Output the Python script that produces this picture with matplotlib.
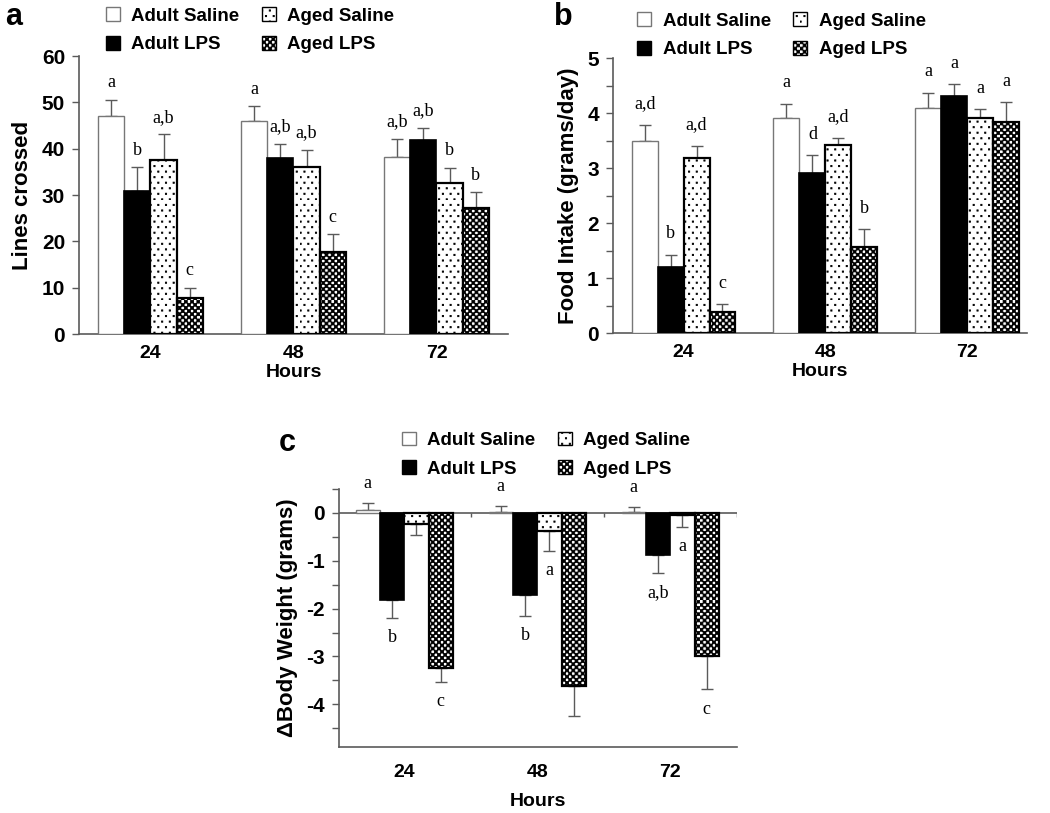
import numpy as np
import matplotlib
matplotlib.use("Agg")
import matplotlib.pyplot as plt
import matplotlib.hatch as mhatch
from matplotlib.path import Path
from matplotlib.patches import Patch

# ---- data ------------------------------------------------------------------
hours = ["24", "48", "72"]
groups = ["Adult Saline", "Adult LPS", "Aged Saline", "Aged LPS"]

lines_mean = [[47.1, 30.9, 37.6, 7.8],
              [45.9, 38.1, 36.1, 17.8],
              [38.2, 41.9, 32.7, 27.2]]
lines_err = [[3.5, 5.1, 5.6, 2.2],
             [3.3, 3.0, 3.7, 3.8],
             [4.0, 2.6, 3.2, 3.4]]
lines_sig = [["a", "b", "a,b", "c"],
             ["a", "a,b", "a,b", "c"],
             ["a,b", "a,b", "b", "b"]]

food_mean = [[3.49, 1.21, 3.19, 0.39],
             [3.91, 2.91, 3.42, 1.57],
             [4.10, 4.31, 3.91, 3.85]]
food_err = [[0.30, 0.22, 0.22, 0.14],
            [0.26, 0.33, 0.13, 0.32],
            [0.27, 0.22, 0.16, 0.35]]
food_sig = [["a,d", "b", "a,d", "c"],
            ["a", "d", "a,d", "b"],
            ["a", "a", "a", "a"]]

bw_mean = [[0.06, -1.83, -0.24, -3.24],
           [0.03, -1.72, -0.37, -3.61],
           [0.01, -0.87, -0.04, -2.99]]
bw_err = [[0.14, 0.37, 0.23, 0.29],
          [0.12, 0.43, 0.42, 0.63],
          [0.12, 0.39, 0.26, 0.70]]
bw_sig = [["a", "b", "", "c"],
          ["a", "b", "a", ""],
          ["a", "a,b", "a", "c"]]


# ---- staggered filled-square hatches (dots / checkerboard) -----------------
class Stagger(mhatch.HatchPatternBase):
    char = "*"
    ncol, nrow, side = 16, 32, 0.42

    def __init__(self, hatch, density):
        self.on = self.char in hatch
        self.num_vertices = self.ncol * self.nrow * 5 if self.on else 0

    def set_vertices_and_codes(self, vertices, codes):
        p = 1.0 / self.ncol
        q = 1.0 / self.nrow
        s = self.side * p
        sq = np.array([[0, 0], [s, 0], [s, s], [0, s], [0, 0]], float)
        cc = [Path.MOVETO, Path.LINETO, Path.LINETO, Path.LINETO, Path.CLOSEPOLY]
        k = 0
        for r in range(self.nrow):
            shift = 0 if r % 2 == 0 else p / 2
            for c in range(self.ncol):
                vertices[k:k + 5] = sq + [c * p + shift, r * q]
                codes[k:k + 5] = cc
                k += 5


class Checker(Stagger):
    char = "*"
    ncol, nrow, side = 16, 32, 0.46


class Dots(Stagger):
    char = "o"
    ncol, nrow, side = 13, 18, 0.16


_ht = mhatch._hatch_types
_ht[_ht.index(mhatch.Stars)] = Checker
_ht[_ht.index(mhatch.SmallCircles)] = Dots

SANS = "Liberation Sans"
SERIF = "Liberation Serif"
plt.rcParams["font.family"] = SANS
plt.rcParams["hatch.linewidth"] = 0.6
plt.rcParams["axes.unicode_minus"] = False

AXC = "#5a5a5a"
STYLE = {
    "Adult Saline": dict(facecolor="white", edgecolor="#777777", hatch=None, lw=1.0),
    "Adult LPS": dict(facecolor="black", edgecolor="black", hatch=None, lw=1.2),
    "Aged Saline": dict(facecolor="white", edgecolor="black", hatch="o", lw=1.6),
    "Aged LPS": dict(facecolor="white", edgecolor="black", hatch="*", lw=1.6),
}
W = 0.183


def panel(ax, mean, err, sig, ylim, yticks, minor, ylabel, letter_off):
    mean = np.array(mean)
    err = np.array(err)
    x = np.arange(len(hours))
    for j, g in enumerate(groups):
        st = STYLE[g]
        xs = x + (j - 1.5) * W
        ax.bar(xs, mean[:, j], W, color=st["facecolor"], edgecolor=st["edgecolor"],
               hatch=st["hatch"], linewidth=st["lw"], zorder=3)
        up = np.where(mean[:, j] >= 0, err[:, j], 0)
        dn = np.where(mean[:, j] < 0, err[:, j], 0)
        ax.errorbar(xs, mean[:, j], yerr=[dn, up], fmt="none", ecolor=AXC,
                    elinewidth=1.0, capsize=4, capthick=1.0, zorder=2)
        for i in range(len(hours)):
            if not sig[i][j]:
                continue
            if mean[i, j] >= 0:
                ax.annotate(sig[i][j], (xs[i], mean[i, j] + err[i, j]),
                            xytext=(0, letter_off), textcoords="offset points",
                            ha="center", va="bottom", family=SERIF, fontsize=13)
            else:
                ax.annotate(sig[i][j], (xs[i], mean[i, j] - err[i, j]),
                            xytext=(0, -letter_off), textcoords="offset points",
                            ha="center", va="top", family=SERIF, fontsize=13)
    ax.set_ylim(*ylim)
    ax.set_yticks(yticks)
    if minor is not None:
        ax.set_yticks(minor, minor=True)
    ax.set_xticks(x)
    ax.set_xticklabels(hours, fontsize=14, fontweight="bold")
    ax.tick_params(axis="x", length=0, pad=8)
    ax.tick_params(axis="y", which="both", length=5, width=1, color=AXC,
                   labelsize=15, pad=5)
    for lab in ax.get_yticklabels():
        lab.set_fontweight("bold")
    for s in ("top", "right"):
        ax.spines[s].set_visible(False)
    for s in ("left", "bottom"):
        ax.spines[s].set_color(AXC)
        ax.spines[s].set_linewidth(1.2)
    ax.set_ylabel(ylabel, fontsize=16, fontweight="bold", labelpad=6)


def add_legend(ax, anchor):
    handles = []
    for g in groups:
        st = STYLE[g]
        handles.append(Patch(facecolor=st["facecolor"], edgecolor=st["edgecolor"],
                             hatch=st["hatch"], linewidth=1.0))
    ax.legend(handles, groups, ncol=2, loc="upper left", bbox_to_anchor=anchor,
              bbox_transform=ax.figure.transFigure, frameon=False, borderpad=0,
              borderaxespad=0, handlelength=0.75, handleheight=0.75,
              handletextpad=0.6, columnspacing=1.2, labelspacing=0.6,
              prop={"family": SANS, "weight": "bold", "size": 13.5})


fig = plt.figure(figsize=(10.5, 8.13), dpi=100)

ax_a = fig.add_axes([0.0752, 0.589, 0.4086, 0.342])
panel(ax_a, lines_mean, lines_err, lines_sig, (0, 60), np.arange(0, 61, 10), None,
      "Lines crossed", 6)
ax_a.set_xlim(-0.5, 2.5)
ax_a.set_xlabel("Hours", fontsize=14, fontweight="bold", labelpad=1)
add_legend(ax_a, (0.101, 0.991))
fig.text(0.005, 0.979, "a", fontsize=22, fontweight="bold", va="center")

ax_b = fig.add_axes([0.5835, 0.59, 0.3943, 0.3383])
panel(ax_b, food_mean, food_err, food_sig, (0, 5), np.arange(0, 6, 1),
      np.arange(0.5, 5, 1.0), "Food Intake (grams/day)", 9)
ax_b.set_xlim(-0.5, 2.42)
ax_b.set_xlabel("Hours", fontsize=14, fontweight="bold", labelpad=1)
add_legend(ax_b, (0.607, 0.985))
fig.text(0.528, 0.979, "b", fontsize=22, fontweight="bold", va="center")

ax_c = fig.add_axes([0.3229, 0.0808, 0.3787, 0.3177])
panel(ax_c, bw_mean, bw_err, bw_sig, (-4.9, 0.5), np.arange(-4, 1, 1),
      np.arange(-4.5, 0.6, 1.0), "\u0394Body Weight (grams)", 8)
ax_c.set_xlim(-0.49, 2.5)
ax_c.axhline(0, color=AXC, lw=1.2, zorder=1)
ax_c.vlines(np.arange(len(hours)) + 0.5, -0.08, 0, color=AXC, lw=1.0, zorder=1)
ax_c.tick_params(axis="x", pad=12)
ax_c.set_xlabel("Hours", fontsize=14, fontweight="bold", labelpad=9)
add_legend(ax_c, (0.3826, 0.469))
fig.text(0.265, 0.455, "c", fontsize=22, fontweight="bold", va="center")

fig.savefig("out.png", dpi=100)
